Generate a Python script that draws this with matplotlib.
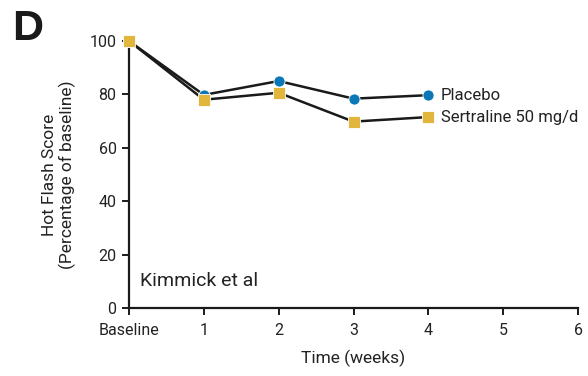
import matplotlib
matplotlib.use("Agg")
import matplotlib.pyplot as plt
from matplotlib import font_manager

weeks = [0, 1, 2, 3, 4]
placebo = [100, 79.8, 85.0, 78.4, 79.7]
sertraline = [100, 78.0, 80.6, 69.8, 71.5]
x_ticks = [0, 1, 2, 3, 4, 5, 6]
x_tick_labels = ["Baseline", "1", "2", "3", "4", "5", "6"]
y_ticks = [0, 20, 40, 60, 80, 100]

names = {f.name for f in font_manager.fontManager.ttflist}
family = "Liberation Sans Narrow" if "Liberation Sans Narrow" in names else "Roboto"
plt.rcParams["font.family"] = [family, "DejaVu Sans"]

blue = "#0a78b6"
gold = "#e2b53c"

fig = plt.figure(figsize=(5.88, 3.76), dpi=100)
ax = fig.add_axes([0.2194, 0.181, 0.983 - 0.2194, 0.891 - 0.181])

ax.plot(weeks, placebo, color="#1a1a1a", lw=1.8, marker="o", ms=8,
        mfc=blue, mec="white", mew=0.6, clip_on=False, zorder=3)
ax.plot(weeks, sertraline, color="#1a1a1a", lw=1.8, marker="s", ms=8,
        mfc=gold, mec="white", mew=0.6, clip_on=False, zorder=4)

ax.set_xlim(0, 6)
ax.set_ylim(0, 100)
ax.set_xticks(x_ticks)
ax.set_xticklabels(x_tick_labels)
ax.set_yticks(y_ticks)
for s in ["top", "right"]:
    ax.spines[s].set_visible(False)
for s in ["left", "bottom"]:
    ax.spines[s].set_linewidth(1.6)
    ax.spines[s].set_color("#1a1a1a")
ax.tick_params(direction="out", length=5, width=1.4, colors="#1a1a1a",
               labelsize=11.5, labelcolor="#222222")
ax.tick_params(axis="x", pad=6)
ax.tick_params(axis="y", pad=4)

ax.set_xlabel("Time (weeks)", fontsize=12.5, color="#222222", labelpad=8)
ax.set_ylabel("Hot Flash Score\n(Percentage of baseline)", fontsize=12.5,
              color="#222222", labelpad=10, linespacing=1.1)

ax.annotate("Placebo", xy=(weeks[-1], placebo[-1]), xytext=(9, 0),
            textcoords="offset points", va="center", ha="left",
            fontsize=12, color="#222222")
ax.annotate("Sertraline 50 mg/d", xy=(weeks[-1], sertraline[-1]), xytext=(9, 0),
            textcoords="offset points", va="center", ha="left",
            fontsize=12, color="#222222")

ax.text(0.15, 10, "Kimmick et al", fontsize=14, color="#222222",
        va="center", ha="left")

fig.text(0.02, 0.975, "D", fontsize=31, fontweight="bold", color="#1a1a1a",
         va="top", ha="left", family="Liberation Sans")

fig.savefig("out.png", dpi=100)
